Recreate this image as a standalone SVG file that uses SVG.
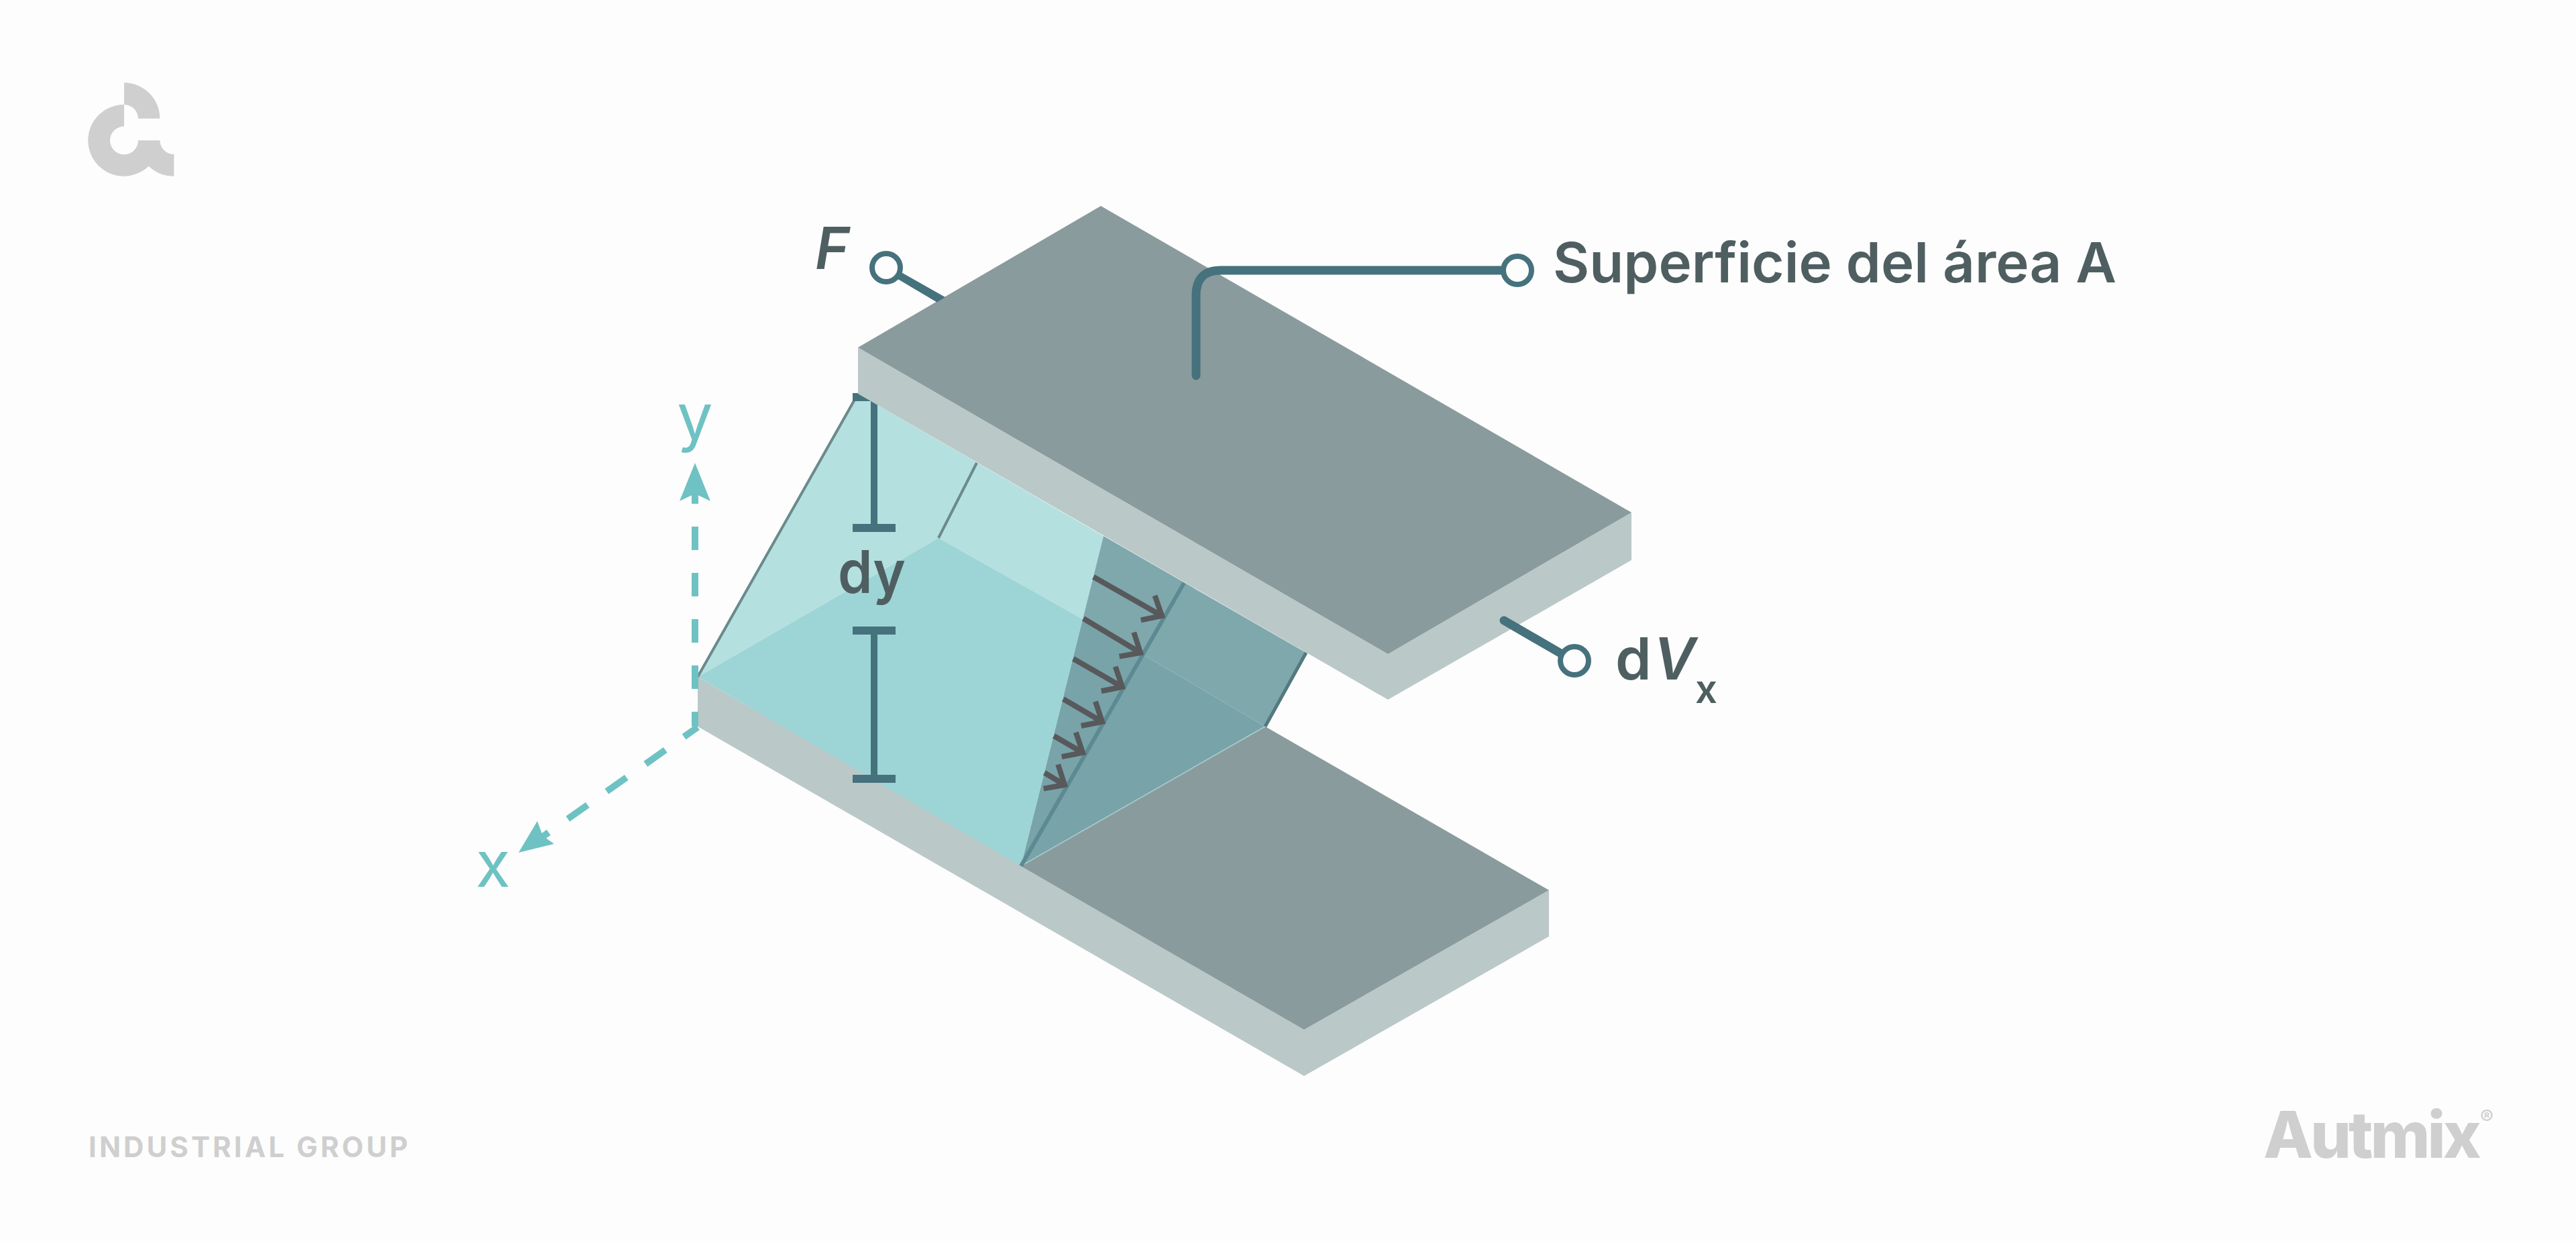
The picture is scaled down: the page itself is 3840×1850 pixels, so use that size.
<svg xmlns="http://www.w3.org/2000/svg" width="3840" height="1850" viewBox="0 0 3840 1850">
<style>
.top{fill:#8a9b9d}.side{fill:#bbc8c8}
.lbl{font-family:"Inter","Liberation Sans",sans-serif;fill:#4f5f61;font-weight:600}
.ax{font-family:"Inter","Liberation Sans",sans-serif;fill:#6fc2c3;font-weight:400;font-size:95px}
.brand{font-family:"Inter","Liberation Sans",sans-serif;fill:#cfcfcf}
.conn{fill:none;stroke:#45727c;stroke-width:13;stroke-linecap:round}
.ring{fill:#fdfdfd;stroke:#45727c;stroke-width:8}
.dim{fill:none;stroke:#45727c}
.axis{fill:none;stroke:#6fc2c3;stroke-width:10}
.head{fill:#6fc2c3}
.vel{fill:none;stroke:#58595b;stroke-width:8;marker-end:url(#open)}
</style>
<defs>
<marker id="open" markerUnits="userSpaceOnUse" viewBox="-34 -30 44 60" refX="0" refY="0" markerWidth="44" markerHeight="60" orient="auto">
<path d="M-24 -21L0 0L-24 21" fill="none" stroke="#58595b" stroke-width="8"/>
</marker>
</defs>
<rect width="3840" height="1850" fill="#fdfdfd"/>
<g id="logo" class="brand" transform="translate(100 100) scale(.33333)">
<path d="M255 168A160 160 0 1 0 365 443A160 160 0 0 0 478 488V390A63 63 0 0 1 415 328H318A63 63 0 1 1 255 265Z"/>
<path d="M255 70A160 160 0 0 1 415 230H318A63 63 0 0 0 255 168Z"/>
</g>
<g id="lower-plate">
<polygon class="side" points="1040,1009 1944,1535 1944,1604 1040,1083"/>
<polygon class="side" points="1944,1535 2309,1327 2309,1396 1944,1604"/>
<polygon class="top" points="1522,1291 1886,1083 2309,1327 1944,1535"/>
</g>
<g id="fluid">
<polygon fill="#b5e0e0" points="1040,1009 1279,587 1645,799 1614,923 1399,802"/>
<polygon fill="#9dd5d6" points="1040,1009 1399,802 1614,923 1522,1291"/>
<polygon fill="#7fa8ad" points="1645,799 1947,973 1886,1083 1614,923"/>
<polygon fill="#78a3a9" points="1614,923 1886,1083 1522,1291"/>
<path d="M1522 1291L1886 1083" fill="none" stroke="#a8cfd0" stroke-width="1.500"/>
<path d="M1040 1009L1279 587M1399 802L1456 690" fill="none" stroke="#6b8a8c" stroke-width="4"/>
<path d="M1886 1083L1947 973" fill="none" stroke="#54797f" stroke-width="5"/>
<path d="M1522 1291L1765 869" fill="none" stroke="#5d8a92" stroke-width="6"/>
</g>
<g id="velocity-arrows">
<path class="vel" d="M1630 860L1732 918"/>
<path class="vel" d="M1615 922L1700 973"/>
<path class="vel" d="M1600 982L1673 1024"/>
<path class="vel" d="M1585 1042L1643 1076"/>
<path class="vel" d="M1571 1097L1614 1122"/>
<path class="vel" d="M1557 1152L1587 1170"/>
</g>
<g id="dy">
<path class="dim" stroke-width="10" d="M1303 592V787M1303 940V1161"/>
<path class="dim" stroke-width="12" d="M1271 592H1335M1271 787H1335M1271 940H1335M1271 1161H1335"/>
<text class="lbl" x="1249" y="884" font-size="88" textLength="101" lengthAdjust="spacingAndGlyphs">dy</text>
</g>
<g id="upper-plate">
<polygon class="side" points="1279,518 2069,975 2069,1043 1279,587"/>
<polygon class="side" points="2069,975 2432,764 2432,835 2069,1043"/>
<polygon class="top" points="1279,518 1641,307 2432,764 2069,975"/>
</g>
<g id="connectors">
<path d="M1340 404L1409 443L1396.500 450.500L1335 414Z" fill="#45727c"/>
<path class="conn" d="M1783 560V440Q1783 403 1820 403H2240"/>
<path class="conn" d="M2242 925L2330 976"/>
<circle class="ring" cx="1321" cy="399" r="21"/>
<circle class="ring" cx="2262" cy="403" r="21"/>
<circle class="ring" cx="2347" cy="985" r="21"/>
</g>
<g id="axes">
<path class="axis" d="M1036 1083V736" stroke-dasharray="22 34 35 34 35 34 35 34 35 34 35"/>
<path class="axis" d="M1040 1084L805 1250" stroke-dasharray="25 34 36 35 36 35 36 35 36"/>
<polygon class="head" points="1036,690 1059,747 1036,736 1013,747"/>
<polygon class="head" points="773,1271 801,1224 809,1246 826,1258"/>
<text class="ax" x="1036" y="655" text-anchor="middle">y</text>
<text class="ax" x="735" y="1322" text-anchor="middle">x</text>
</g>
<g id="labels">
<text class="lbl" x="1215" y="401" font-size="86" font-style="italic">F</text>
<text class="lbl" x="2315" y="421" font-size="83" font-weight="500" textLength="840" lengthAdjust="spacingAndGlyphs">Superficie del área A</text>
<text class="lbl" x="2408" y="1013" font-size="86" font-weight="500">d<tspan font-style="italic" dx="3">V</tspan></text>
<text class="lbl" x="2527" y="1048" font-size="58" font-weight="400">x</text>
</g>
<g id="brand">
<text class="brand" x="132" y="1725" font-size="42" font-weight="700" textLength="476" lengthAdjust="spacing">INDUSTRIAL GROUP</text>
<text class="brand" x="3374" y="1726" font-size="96" font-weight="800" letter-spacing="-4">Autmix</text>
<text class="brand" x="3697" y="1676" font-size="30" font-weight="600">®</text>
</g>
</svg>
